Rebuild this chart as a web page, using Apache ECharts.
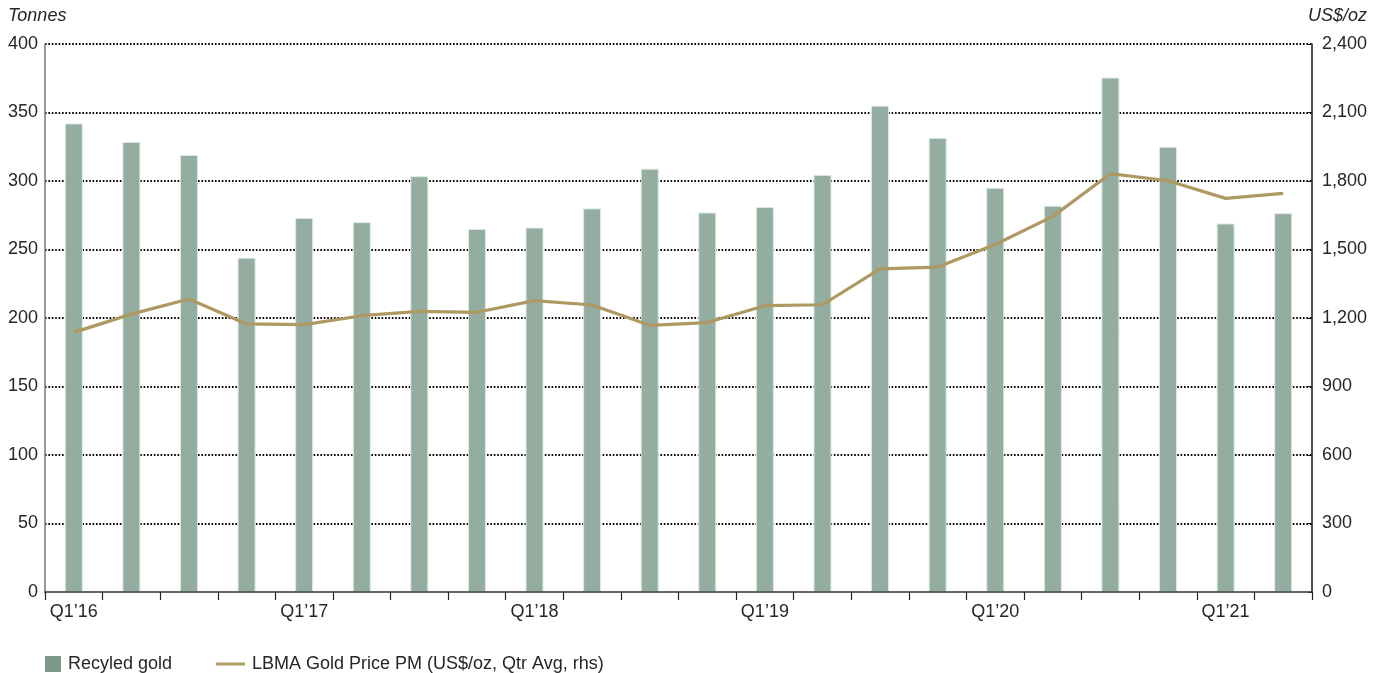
<!DOCTYPE html>
<html>
<head>
<meta charset="utf-8">
<script src="https://cdn.jsdelivr.net/npm/echarts@6/dist/echarts.min.js"></script>
<style>
  html, body { margin: 0; padding: 0; background: #fff; }
  #chart { width: 1384px; height: 673px; }
</style>
</head>
<body>
<div id="chart"></div>
<script>
// Quarterly recycled gold supply (tonnes) and average LBMA PM gold price
const quarters = [
  'Q1’16', 'Q2’16', 'Q3’16', 'Q4’16',
  'Q1’17', 'Q2’17', 'Q3’17', 'Q4’17',
  'Q1’18', 'Q2’18', 'Q3’18', 'Q4’18',
  'Q1’19', 'Q2’19', 'Q3’19', 'Q4’19',
  'Q1’20', 'Q2’20', 'Q3’20', 'Q4’20',
  'Q1’21', 'Q2’21'
];
const recycledGold = [
  342, 328.5, 319, 244,
  273, 270, 303.5, 265,
  266, 280, 309, 277,
  281, 304.5, 355, 331.5,
  295, 282, 375.5, 325,
  269, 276.5
];
const goldPrice = [
  1137, 1217, 1283, 1174,
  1171, 1210, 1229, 1225,
  1276, 1257, 1168, 1180,
  1254, 1258, 1415, 1423,
  1522, 1645, 1832, 1801,
  1724, 1746
];
const leftTicks = { min: 0, max: 400, interval: 50 };
const rightTicks = { min: 0, max: 2400, interval: 300 };

const barName = 'Recyled gold';
const lineName = 'LBMA Gold Price PM (US$/oz, Qtr Avg, rhs)';

const font = 'Liberation Sans, Arial, sans-serif';
const textColor = '#262626';
const fs = 18;

const chart = echarts.init(document.getElementById('chart'), null, { renderer: 'canvas' });

chart.setOption({
  animation: false,
  backgroundColor: '#ffffff',
  textStyle: { fontFamily: font, color: textColor },
  grid: { left: 45, right: 72, top: 44, bottom: 81, containLabel: false },
  legend: [
    {
      left: 45, top: 655, padding: 0,
      itemWidth: 16, itemHeight: 16, itemGap: 8,
      icon: 'rect',
      textStyle: { fontSize: fs, color: textColor, fontFamily: font, padding: [0, 0, 0, 2] },
      data: [{ name: barName, itemStyle: { color: '#7c9a88', borderWidth: 0 } }]
    },
    {
      left: 216, top: 655, padding: 0,
      itemWidth: 29, itemHeight: 16, itemGap: 8,
      icon: 'path://M0,6.5 L29,6.5 L29,9.5 L0,9.5 Z',
      textStyle: { fontSize: fs, color: textColor, fontFamily: font, padding: [0, 0, 0, 2] },
      data: [{ name: lineName, itemStyle: { color: '#ae9962', borderWidth: 0 } }]
    }
  ],
  xAxis: {
    type: 'category',
    data: quarters,
    boundaryGap: true,
    z: 5,
    axisLine: { show: true, lineStyle: { color: '#333', width: 1.5 } },
    axisTick: { show: true, alignWithLabel: false, interval: 0, length: 8, lineStyle: { color: '#222', width: 1.2 } },
    axisLabel: { interval: 3, fontSize: fs, color: textColor, margin: 11, fontFamily: font },
    splitLine: { show: false }
  },
  yAxis: [
    {
      type: 'value',
      min: leftTicks.min, max: leftTicks.max, interval: leftTicks.interval,
      name: 'Tonnes',
      nameLocation: 'end',
      nameGap: 19,
      nameTextStyle: { fontStyle: 'italic', fontSize: fs, color: textColor, align: 'left', padding: [0, 0, 0, -37], fontFamily: font },
      axisLine: { show: true, lineStyle: { color: '#777', width: 1.5 } },
      axisTick: { show: false },
      axisLabel: { fontSize: fs, color: textColor, margin: 7, fontFamily: font },
      splitLine: {
        show: true, showMinLine: false,
        lineStyle: { color: '#000', type: [1.6, 1.8], width: 1.8 }
      }
    },
    {
      type: 'value',
      min: rightTicks.min, max: rightTicks.max, interval: rightTicks.interval,
      name: 'US$/oz',
      nameLocation: 'end',
      nameGap: 19,
      nameTextStyle: { fontStyle: 'italic', fontSize: fs, color: textColor, align: 'right', padding: [0, -55, 0, 0], fontFamily: font },
      position: 'right',
      axisLine: { show: true, lineStyle: { color: '#1a1a1a', width: 1.5 } },
      axisTick: { show: true, length: 4, inside: true, lineStyle: { color: '#1a1a1a' } },
      axisLabel: {
        fontSize: fs, color: textColor, margin: 10, fontFamily: font,
        formatter: v => v.toLocaleString('en-US')
      },
      splitLine: { show: false }
    }
  ],
  series: [
    {
      name: barName,
      type: 'bar',
      yAxisIndex: 0,
      data: recycledGold,
      barWidth: 18,
      itemStyle: { color: '#93ada0', borderColor: '#dfe7e2', borderWidth: 1 },
      z: 2
    },
    {
      name: lineName,
      type: 'line',
      yAxisIndex: 1,
      data: goldPrice,
      symbol: 'none',
      lineStyle: { color: '#ae9962', width: 3.2 },
      itemStyle: { color: '#ae9962' },
      z: 3
    }
  ]
});
</script>
</body>
</html>
